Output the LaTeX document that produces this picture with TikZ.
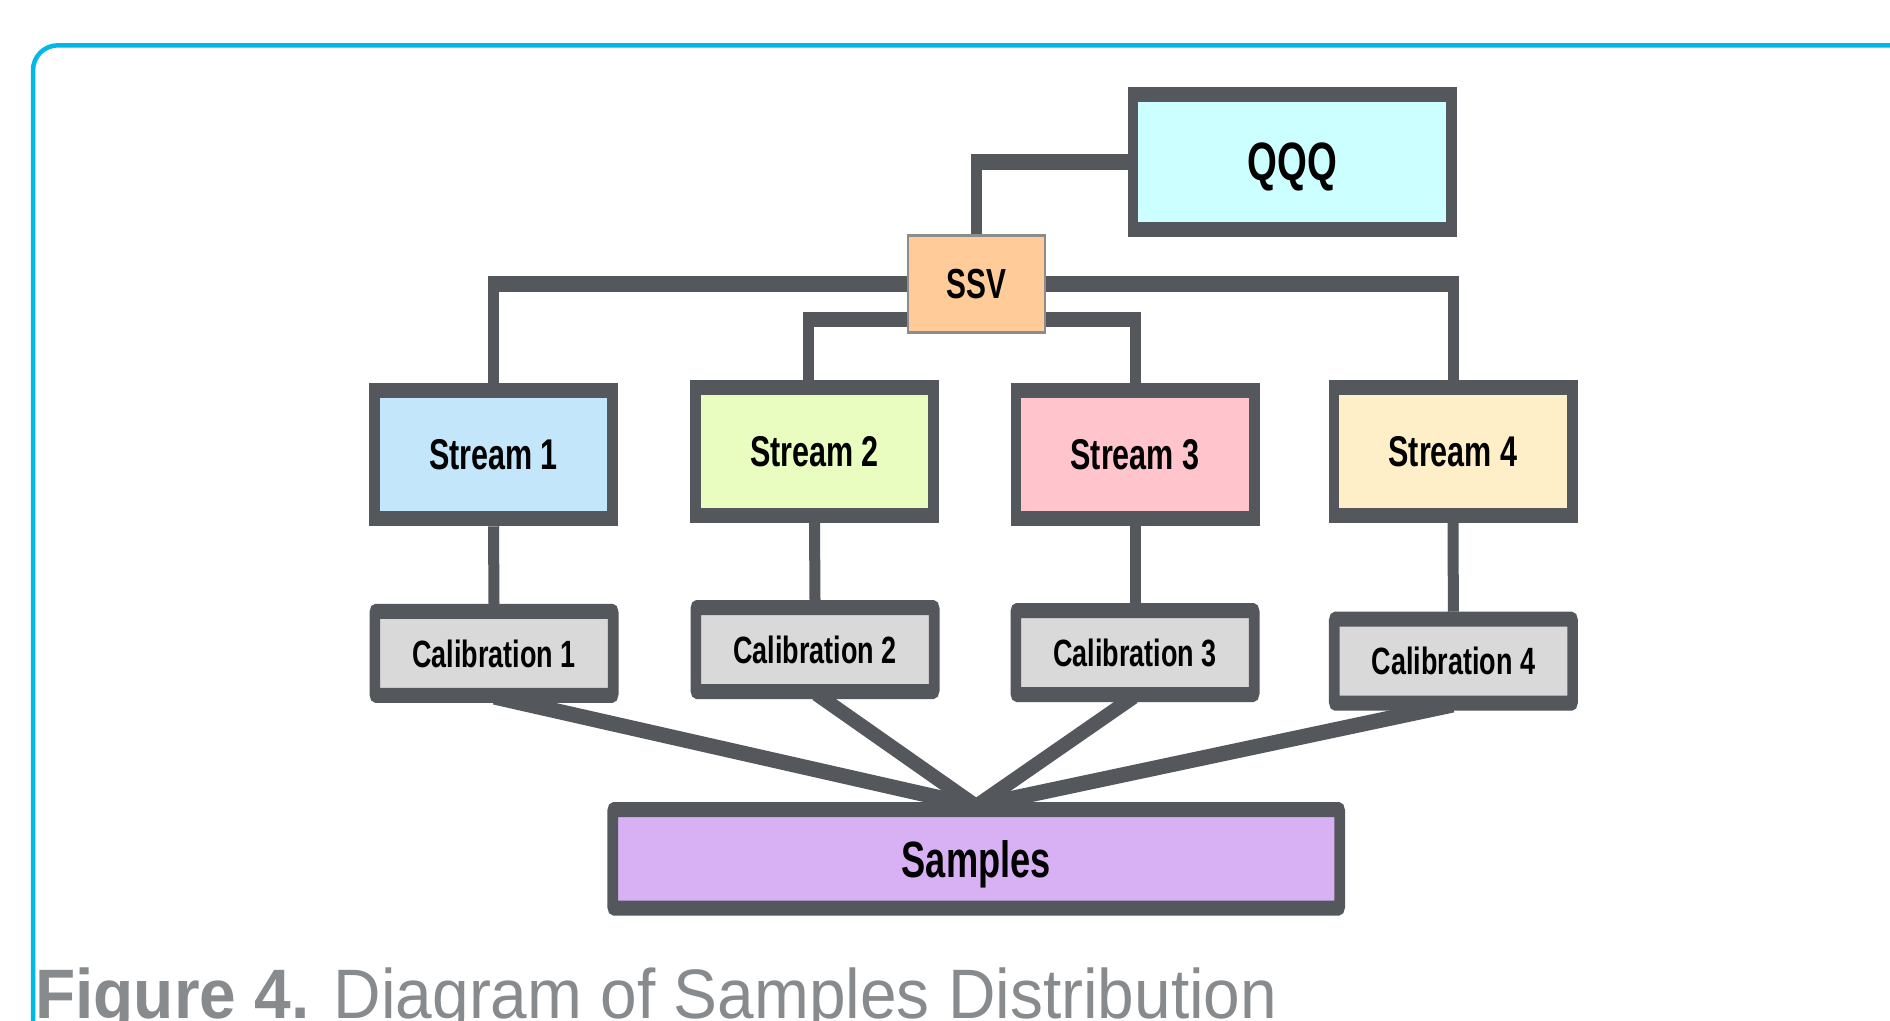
\documentclass[tikz,border=0pt]{standalone}
\usepackage{fontspec}
\setmainfont{Liberation Sans}
\newfontfamily\capfont{Liberation Sans}[FakeStretch=0.94]
\usetikzlibrary{calc}

\definecolor{framecyan}{HTML}{00B9E6}
\definecolor{edgegray}{HTML}{54575B}
\definecolor{qqqfill}{HTML}{CCFFFF}
\definecolor{ssvfill}{HTML}{FFCC99}
\definecolor{ssvedge}{HTML}{8C8C8C}
\definecolor{sonefill}{HTML}{C4E6FA}
\definecolor{stwofill}{HTML}{EAFDC0}
\definecolor{sthreefill}{HTML}{FFC4CC}
\definecolor{sfourfill}{HTML}{FFEFC9}
\definecolor{calfill}{HTML}{D9D9D9}
\definecolor{samplefill}{HTML}{D8B0F4}
\definecolor{captiongray}{HTML}{888B8E}

\pgfdeclarelayer{paper}
\pgfdeclarelayer{bg}
\pgfsetlayers{paper,bg,main}

\tikzset{
  % the diagram is set horizontally condensed
  squeeze/.style={transform canvas={xscale=0.71}, x=1.40845pt, y=-1pt},
  heavybox/.style={draw=edgegray, line width=15pt, inner sep=0pt, text depth=0pt,
    font=\bfseries\fontsize{43}{43}\selectfont},
  streambox/.style={heavybox, fill=#1, minimum width=335.7pt, minimum height=128pt},
  calbox/.style={heavybox, fill=calfill, rounded corners=2pt,
    minimum width=335.7pt, minimum height=84pt,
    font=\bfseries\fontsize{38}{38}\selectfont},
  link/.style={draw=edgegray, line width=15.5pt},
}

\begin{document}
\begin{tikzpicture}[x=1pt, y=-1pt]
\useasboundingbox (0,0) rectangle (1890,1020);
\begin{pgfonlayer}{paper}
  \fill[white] (0,0) rectangle (1890,1020);
\end{pgfonlayer}

% outer frame
\draw[framecyan, line width=4.5pt, rounded corners=25pt]
  (33,1040) -- (33,45.3) -- (1910,45.3);

\begin{scope}[squeeze]
  \node[heavybox, fill=qqqfill, minimum width=448.4pt, minimum height=135pt,
        font=\bfseries\fontsize{54}{54}\selectfont] (qqq) at (1292.3,162) {QQQ};
  \node[draw=ssvedge, line width=3pt, fill=ssvfill, inner sep=0pt, text depth=0pt,
        minimum width=192.8pt, minimum height=97pt,
        font=\bfseries\fontsize{42}{42}\selectfont] (ssv) at (976.2,284.2) {SSV};

  \node[streambox=sonefill]   (s1) at (493.5,454.8)  {Stream 1};
  \node[streambox=stwofill]   (s2) at (814.5,451.2)  {Stream 2};
  \node[streambox=sthreefill] (s3) at (1135,454.8)   {Stream 3};
  \node[streambox=sfourfill]  (s4) at (1453,451.2)   {Stream 4};

  \node[calbox] (c1) at (494,653.3)    {Calibration 1};
  \node[calbox] (c2) at (815,649.5)    {Calibration 2};
  \node[calbox] (c3) at (1135,652.5)   {Calibration 3};
  \node[calbox] (c4) at (1453.4,661.2) {Calibration 4};

  \node[heavybox, fill=samplefill, rounded corners=2pt,
        minimum width=1023.9pt, minimum height=98.5pt,
        font=\bfseries\fontsize{51}{51}\selectfont] (samples) at (976.2,858.8) {Samples};
\end{scope}

% connectors, kept behind the boxes
\begin{pgfonlayer}{bg}
\begin{scope}[squeeze]
  \draw[link] (qqq.west) -| (ssv.north);
  \draw[link] (s1.north) |- (ssv.west);
  \draw[link] (ssv.east) -| (s4.north);
  \draw[link] ($(s2.north)+(-6.3,0)$) |- ($(ssv.west)+(0,35.3)$);
  \draw[link] ($(ssv.east)+(0,35.3)$) -| (s3.north);
  \foreach \i in {1,...,4} {
    \draw[link] (s\i.south) -- (c\i.north);
    \draw[link] ($(c\i.south)+(0,-6)$) -- ($(samples.north)+(0,4)$);
  }
\end{scope}
\end{pgfonlayer}

\node[font=\capfont\fontsize{70}{70}\selectfont, text=captiongray,
      anchor=base west, inner sep=0pt] (caption) at (35,1018)
  {\textbf{Figure 4.} Diagram of Samples Distribution};
\end{tikzpicture}
\end{document}
